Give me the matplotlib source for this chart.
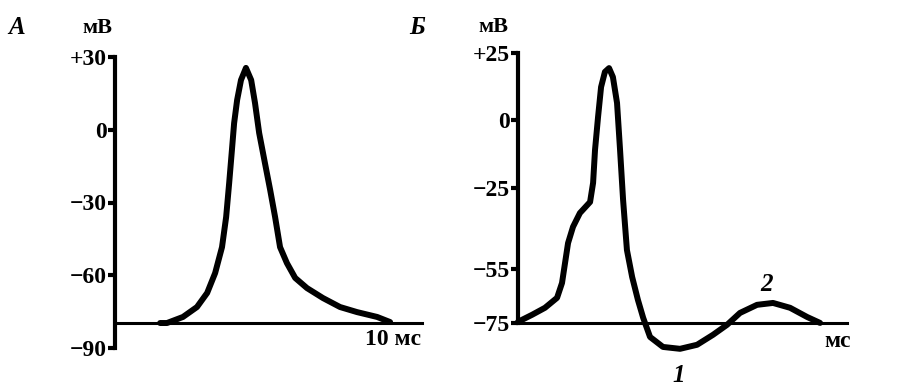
import matplotlib
matplotlib.use("Agg")
import matplotlib.pyplot as plt

plt.rcParams['font.family'] = ['Liberation Serif', 'DejaVu Serif']

# panel A: action potential (ms, mV)
a_time = [1.64, 1.89, 2.47, 2.98, 3.35, 3.64, 3.89, 4.04, 4.15, 4.25, 4.33, 4.44,
          4.58, 4.76, 4.95, 5.09, 5.24, 5.45, 5.64, 5.82, 6.0, 6.25, 6.55, 6.98,
          7.56, 8.18, 8.8, 9.53, 10.0]
a_volt = [-79.7, -79.7, -77.2, -73.1, -67.3, -59.1, -48.4, -36, -22, -8.4, 2.7, 12.3,
          20.5, 25.5, 20.5, 11, -1.3, -13.7, -24.8, -36, -48.4, -55, -61.1, -65.3,
          -69.4, -73.1, -75.2, -77.2, -79.3]
a_rest = -79.7
a_end = 11.16
a_ticks = [30, 0, -30, -60, -90]
a_ticklabels = ['+30', '0', '\u221230', '\u221260', '\u221290']

# panel B: with after-potentials 1 and 2
b_time = [0, 0.51, 0.98, 1.42, 1.6, 1.71, 1.82, 2.0, 2.25, 2.62, 2.73, 2.8, 2.91,
          3.02, 3.16, 3.31, 3.45, 3.6, 3.71, 3.82, 3.96, 4.15, 4.36, 4.55, 4.8,
          5.27, 5.89, 6.51, 7.09, 7.6, 8.07, 8.69, 9.27, 9.89, 10.51, 10.98]
b_volt = [-74.6, -72, -69.4, -65.7, -60.2, -52.8, -45.4, -39.4, -34.3, -30.2, -23.1,
          -10.9, 1.3, 12.4, 18, 19.4, 16.1, 6.5, -10.9, -29.4, -48, -58, -66.5, -73.1,
          -80.2, -83.9, -84.6, -83.1, -79.4, -75.7, -71.3, -68.3, -67.6, -69.4, -72.8, -75]
b_rest = -75
b_end = 11.96
b_ticks = [25, 0, -25, -55, -75]
b_ticklabels = ['+25', '0', '\u221225', '\u221255', '\u221275']

W, H = 903, 392
fig = plt.figure(figsize=(W / 100, H / 100), dpi=100)


def px_axes(left, top, right, bottom):
    return fig.add_axes([left / W, 1 - bottom / H, (right - left) / W, (bottom - top) / H])


def style(ax, ticks, labels):
    for s in ['top', 'right', 'bottom']:
        ax.spines[s].set_visible(False)
    ax.spines['left'].set_linewidth(3)
    ax.spines['left'].set_bounds(min(ticks), max(ticks))
    ax.set_yticks(ticks)
    ax.set_yticklabels(labels, fontsize=17, weight='bold')
    ax.tick_params(axis='y', length=5, width=3, pad=1)
    ax.set_xticks([])
    ax.patch.set_visible(False)


axA = px_axes(115, 57, 422, 348)
axA.set_xlim(0, a_end)
axA.set_ylim(-90, 30)
style(axA, a_ticks, a_ticklabels)
axA.plot([0, a_end], [a_rest, a_rest], color='black', lw=2.2, clip_on=False)
axA.plot(a_time, a_volt, color='black', lw=4.3, solid_joinstyle='round',
         solid_capstyle='round', clip_on=False)
axA.text(10.1, -86.7, '10 мс', fontsize=17, weight='bold', ha='center', va='center')

axB = px_axes(518, 53, 847, 358)
axB.set_xlim(0, b_end)
axB.set_ylim(-88, 25)
style(axB, b_ticks, b_ticklabels)
axB.plot([0, b_end], [b_rest, b_rest], color='black', lw=2.2, clip_on=False)
axB.plot(b_time, b_volt, color='black', lw=4.3, solid_joinstyle='round',
         solid_capstyle='round', clip_on=False)
axB.text(11.6, -82, 'мс', fontsize=17, weight='bold', ha='center', va='center')
axB.text(5.85, -94.3, '1', fontsize=18, style='italic', weight='bold', ha='center', va='center')
axB.text(9.05, -60.9, '2', fontsize=18, style='italic', weight='bold', ha='center', va='center')

fig.text(17 / W, 1 - 27 / H, 'А', fontsize=18, style='italic', weight='bold', ha='center', va='center')
fig.text(417 / W, 1 - 27 / H, 'Б', fontsize=18, style='italic', weight='bold', ha='center', va='center')
fig.text(97 / W, 1 - 28 / H, 'мВ', fontsize=16, weight='bold', ha='center', va='center')
fig.text(493 / W, 1 - 27 / H, 'мВ', fontsize=16, weight='bold', ha='center', va='center')

fig.savefig('out.png', dpi=100)
